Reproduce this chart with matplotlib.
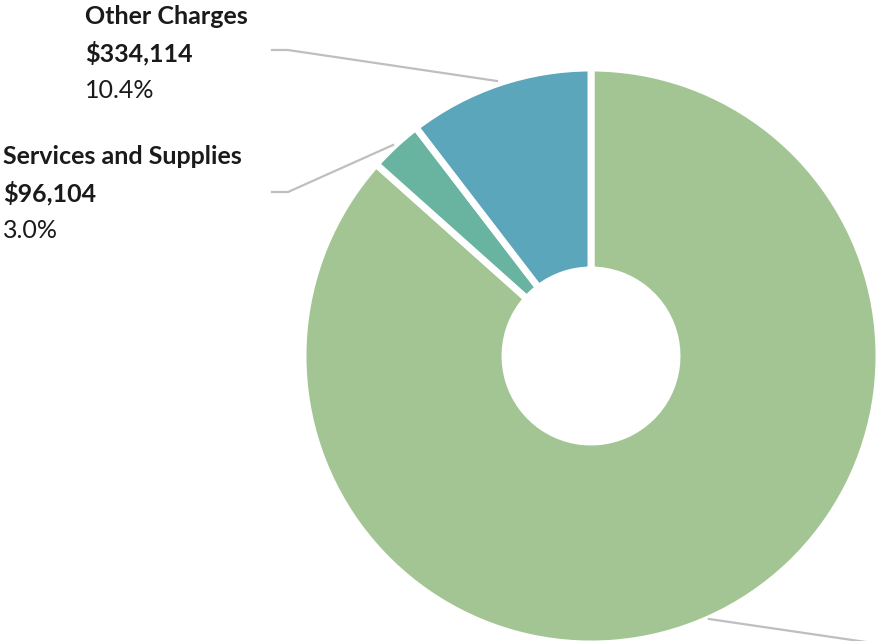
import matplotlib.pyplot as plt

# Budget breakdown (drawn clockwise from 12 o'clock)
categories = ["Salaries and Benefits", "Services and Supplies", "Other Charges"]
amounts = [2780000, 96104, 334114]
colors = ["#A3C594", "#68B4A0", "#5BA6BB"]

W, H = 877, 641
fig = plt.figure(figsize=(W / 100, H / 100), dpi=100)
ax = fig.add_axes([0, 0, 1, 1])

cx, cy, r = 591, H - 356, 288
wedges, _ = ax.pie(amounts, colors=colors, startangle=90, counterclock=False,
                   center=(cx, cy), radius=r, frame=True,
                   wedgeprops=dict(width=r - 86, edgecolor="white", linewidth=5))

ax.set_xlim(0, W)
ax.set_ylim(0, H)
ax.set_aspect("equal")
ax.axis("off")

total = sum(amounts)
font = ["Lato", "DejaVu Sans"]

def label(x, y, name, amount):
    ax.text(x, H - y, name, fontsize=18, fontweight="bold", family=font,
            va="center", ha="left", color="#1a1a1a")
    ax.text(x, H - y - 36, f"${amount:,.0f}", fontsize=18, fontweight="bold",
            family=font, va="center", ha="left", color="#1a1a1a")
    ax.text(x, H - y - 73, f"{amount / total * 100:.1f}%", fontsize=18,
            family=font, va="center", ha="left", color="#1a1a1a")

label(85, 17, categories[2], amounts[2])
label(3, 157, categories[1], amounts[1])

# leader lines
lc = "#BFBFBF"
ax.plot([272, 288, 497], [H - 50, H - 50, H - 81], color=lc, lw=1.6)
ax.plot([272, 288, 393], [H - 192, H - 192, H - 145], color=lc, lw=1.6)
ax.plot([709, 900], [H - 619, H - 647], color=lc, lw=1.6, clip_on=True)

fig.savefig("out.png", dpi=100)
